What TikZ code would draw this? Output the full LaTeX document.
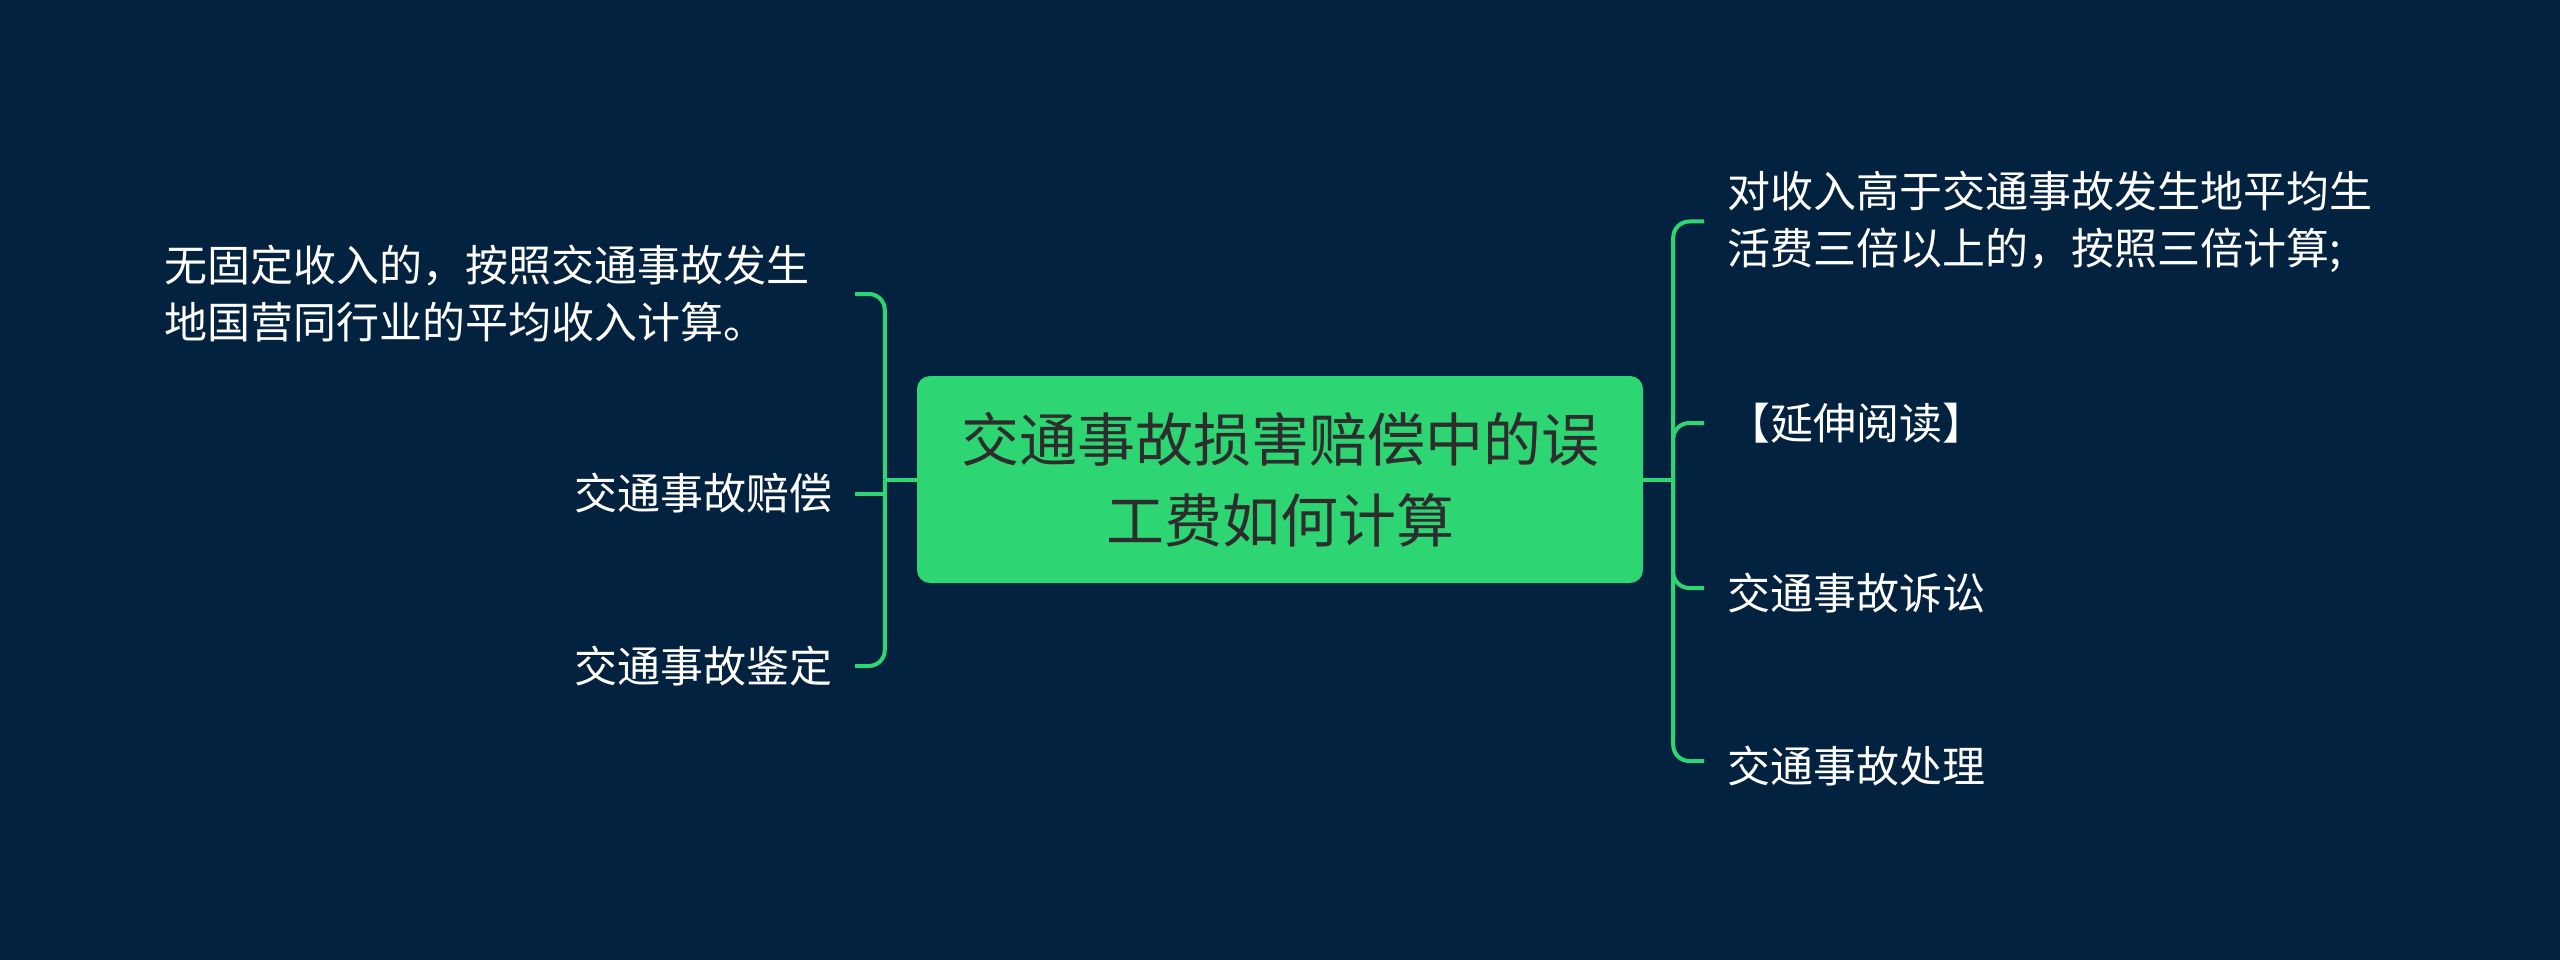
\documentclass[tikz,border=0pt]{standalone}
\usepackage{fontspec}
\setmainfont{Noto Sans CJK SC}
\usetikzlibrary{calc}
\definecolor{bgc}{RGB}{3,34,64}
\definecolor{grn}{RGB}{46,213,115}
\definecolor{dtxt}{RGB}{45,45,45}
\tikzset{
  conn/.style={draw=grn, line width=4pt, rounded corners=16pt},
  leaf/.style={text=white, font=\fontsize{43}{57}\selectfont, inner xsep=22pt, inner ysep=0pt, align=left},
  one/.style={text height=38pt, text depth=5pt},
  leafl/.style={leaf, anchor=east},
  leafr/.style={leaf, anchor=west, inner xsep=23pt},
  root/.style={fill=grn, rounded corners=13pt, minimum width=726pt, minimum height=207pt,
    text=dtxt, font=\fontsize{58}{81}\selectfont, align=center, inner sep=0pt}
}
\begin{document}
\begin{tikzpicture}[x=1pt, y=-1pt]
\fill[bgc] (0,0) rectangle (2560,960);
\useasboundingbox (0,0) rectangle (2560,960);

\node[root] (c) at (1280,479.5) {交通事故损害赔偿中的误\\工费如何计算};

\node[leafl, text width=668pt] (l1) at (855,294) {无固定收入的，按照交通事故发生\\地国营同行业的平均收入计算。};
\node[leafl, one] (l2) at (855,493) {交通事故赔偿};
\node[leafl, one] (l3) at (855,666) {交通事故鉴定};

\node[leafr] (r1) at (1704,221.5) {对收入高于交通事故发生地平均生\\活费三倍以上的，按照三倍计算;};
\node[leafr, one] (r2) at (1704,423) {【延伸阅读】};
\node[leafr, one] (r3) at (1704,593) {交通事故诉讼};
\node[leafr, one] (r4) at (1704,766) {交通事故处理};

\coordinate (lj) at ($(c.west)+(-32,0)$);
\coordinate (rj) at ($(c.east)+(30,0)$);

\draw[conn] (c.west) -- (lj);
\draw[conn] (lj) |- (l1.east);
\draw[conn, sharp corners] (lj) |- ($(l2.east)+(0,1)$);
\draw[conn] (lj) |- (l3.east);

\draw[conn] (c.east) -- (rj);
\draw[conn] (rj) |- (r1.west);
\draw[conn] (rj) |- (r2.west);
\draw[conn] (rj) |- ($(r3.west)+(0,-5)$);
\draw[conn] (rj) |- ($(r4.west)+(0,-5)$);
\end{tikzpicture}
\end{document}
